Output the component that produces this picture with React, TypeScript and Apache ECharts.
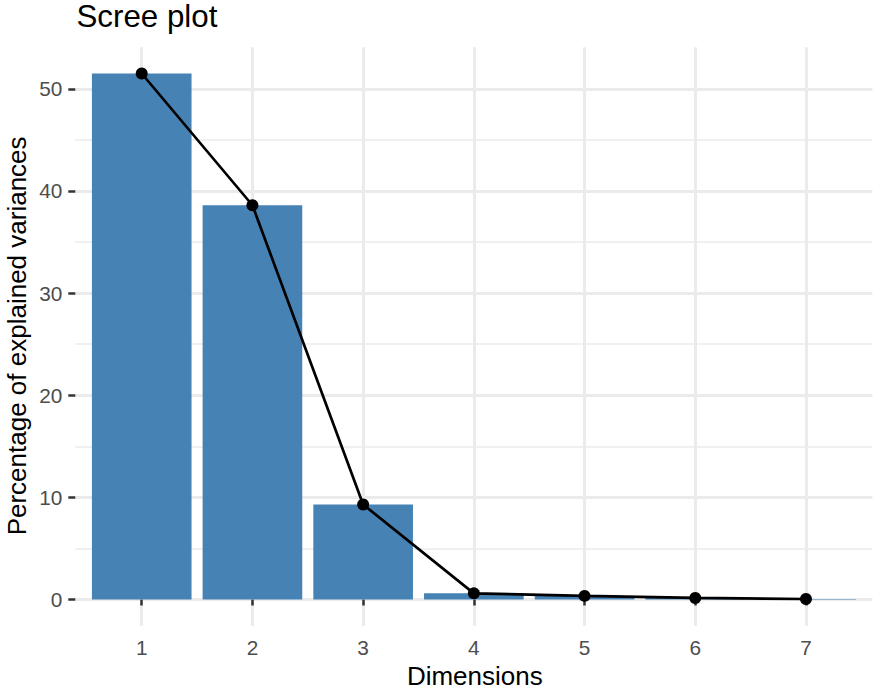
import React, { useEffect, useRef } from "react";
import * as echarts from "echarts";

const dimensions = [1, 2, 3, 4, 5, 6, 7];
const variances = [51.5, 38.6, 9.3, 0.6, 0.35, 0.15, 0.05];
const yMajorTicks = [0, 10, 20, 30, 40, 50];
const yMinorTicks = [5, 15, 25, 35, 45];
const xTicks = [1, 2, 3, 4, 5, 6, 7];

const FONT = '"Liberation Sans", Arial, Helvetica, sans-serif';

export default function App() {
  const ref = useRef<HTMLDivElement>(null);
  useEffect(() => {
    if (!ref.current) return;
    const chart = echarts.init(ref.current, null, { renderer: "svg" });
    const maxV = Math.max(...variances);
    const yMin = -0.05 * maxV;
    const yMax = maxV * 1.05;
    const gridLeft = 75.3;
    const gridWidth = 797.1;
    const gridTop = 47.2;
    const gridHeight = 578.6;
    const band = gridWidth / 7.2;
    const pairs = dimensions.map((d, i) => [d, variances[i]]);
    chart.setOption({
      animation: false,
      textStyle: { fontFamily: FONT },
      grid: { left: gridLeft, top: gridTop, width: gridWidth, height: gridHeight, containLabel: false },
      xAxis: {
        type: "value",
        min: 0.4,
        max: 7.6,
        axisLine: { show: false },
        axisTick: { show: true, length: 6, lineStyle: { color: "#333333", width: 2.5 }, customValues: xTicks },
        axisLabel: {
          customValues: xTicks,
          color: "#4D4D4D",
          fontSize: 20.8,
          fontFamily: FONT,
          margin: 11,
          formatter: (v: number) => String(v),
        },
        splitLine: { show: true, lineStyle: { color: "#EBEBEB", width: 3 } },
      },
      yAxis: [
        {
          type: "value",
          min: yMin,
          max: yMax,
          axisLine: { show: false },
          axisTick: { show: true, length: 7, lineStyle: { color: "#333333", width: 2.5 }, customValues: yMajorTicks },
          axisLabel: {
            customValues: yMajorTicks,
            color: "#4D4D4D",
            fontSize: 20.8,
            fontFamily: FONT,
            margin: 13,
            formatter: (v: number) => String(v),
          },
          splitLine: { show: true, lineStyle: { color: "#EBEBEB", width: 3 } },
        },
        {
          type: "value",
          min: yMin,
          max: yMax,
          position: "left",
          axisLine: { show: false },
          axisTick: { show: false, customValues: yMinorTicks },
          axisLabel: { show: false, customValues: yMinorTicks },
          splitLine: { show: true, lineStyle: { color: "#EBEBEB", width: 1.5 } },
        },
      ],
      series: [
        {
          type: "bar",
          data: pairs,
          barWidth: band * 0.9,
          itemStyle: { color: "#4682B4" },
          z: 2,
        },
        {
          type: "line",
          data: pairs,
          lineStyle: { color: "#000000", width: 2.7 },
          itemStyle: { color: "#000000" },
          symbol: "circle",
          symbolSize: 12,
          showSymbol: true,
          z: 3,
        },
      ],
      graphic: [
        {
          type: "text",
          x: 76.5,
          y: 16.5,
          style: { text: "Scree plot", font: `31.3px ${FONT}`, fill: "#000000", textAlign: "left", textVerticalAlign: "middle" },
        },
        {
          type: "text",
          x: 474.8,
          y: 676.3,
          style: { text: "Dimensions", font: `26px ${FONT}`, fill: "#000000", textAlign: "center", textVerticalAlign: "middle" },
        },
        {
          type: "text",
          x: 17,
          y: 335.9,
          rotation: Math.PI / 2,
          style: {
            text: "Percentage of explained variances",
            font: `26px ${FONT}`,
            fill: "#000000",
            textAlign: "center",
            textVerticalAlign: "middle",
          },
        },
      ],
    });
    return () => chart.dispose();
  }, []);
  return <div ref={ref} style={{ width: 873, height: 690, position: "absolute", left: 0, top: 0, background: "#fff" }} />;
}
